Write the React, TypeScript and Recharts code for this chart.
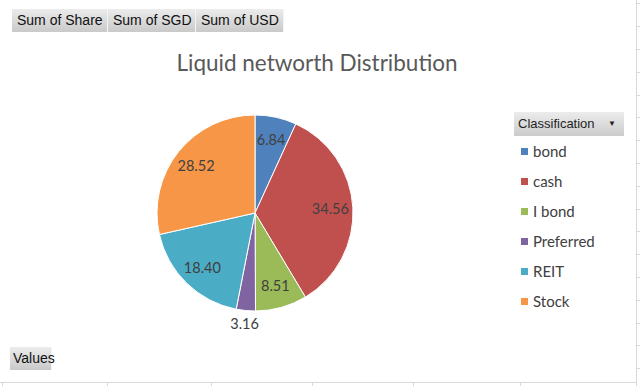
import { PieChart, Pie, Cell, Legend } from "recharts"

const categories = ["bond", "cash", "I bond", "Preferred", "REIT", "Stock"]
const shares = [6.84, 34.56, 8.51, 3.16, 18.4, 28.52]
const colors = ["#4F81BD", "#C0504D", "#9BBB59", "#8064A2", "#4BACC6", "#F79646"]
const fieldButtons = ["Sum of Share", "Sum of SGD", "Sum of USD"]
const title = "Liquid networth Distribution"
const legendTitle = "Classification"

const data = categories.map((name, i) => ({ name, value: shares[i] }))

const RADIAN = Math.PI / 180
const gridColor = "#d9d9d9"

const btnStyle: React.CSSProperties = {
  position: "absolute",
  height: 23,
  boxSizing: "border-box",
  background: "linear-gradient(#ececec, #c9c9c9)",
  borderRight: "1px solid #f4f4f4",
  fontFamily: "'Liberation Sans', Arial, sans-serif",
  fontSize: 14,
  lineHeight: "23px",
  color: "#111",
  paddingLeft: 5,
}

function renderLabel(props: any) {
  const { cx, cy, midAngle, outerRadius, value } = props
  const r = value < 5 ? outerRadius * 1.13 : outerRadius * 0.77
  const x = cx + r * Math.cos(-midAngle * RADIAN)
  const y = cy + r * Math.sin(-midAngle * RADIAN)
  return (
    <text x={x} y={y} fill="#404040" fontSize={14.5} fontFamily="Lato, 'Open Sans', sans-serif"
      textAnchor="middle" dominantBaseline="central">
      {value.toFixed(2)}
    </text>
  )
}

// legend drawn from the named arrays so order follows the data
function LegendBox() {
  return (
    <div style={{ width: 110, fontFamily: "Lato, 'Open Sans', sans-serif" }}>
      <div style={{
        height: 24, background: "linear-gradient(#ececec, #cbcbcb)", color: "#1f1f1f",
        fontFamily: "'Liberation Sans', Arial, sans-serif", fontSize: 13, lineHeight: "24px",
        paddingLeft: 4, position: "relative", boxSizing: "border-box",
      }}>
        {legendTitle}
        <span style={{ position: "absolute", right: 8, top: 0, fontSize: 8 }}>▼</span>
      </div>
      {categories.map((c, i) => (
        <div key={c} style={{ height: 30, display: "flex", alignItems: "center" }}>
          <span style={{ width: 7, height: 7, background: colors[i], marginLeft: 7, marginRight: 5 }} />
          <span style={{ fontSize: 15, color: "#404040" }}>{c}</span>
        </div>
      ))}
    </div>
  )
}

export default function App() {
  const rowTicks = Array.from({ length: 18 }, (_, k) => 3.4 + 22.8 * k)
  const colLines = [2, 107, 211, 312, 413, 520]
  return (
    <div style={{ position: "absolute", left: 0, top: 0, width: 640, height: 386, background: "#fff", overflow: "hidden" }}>
      {/* spreadsheet cell grid peeking around the chart */}
      <div style={{ position: "absolute", left: 636, top: 0, width: 1, height: 386, background: gridColor }} />
      {rowTicks.map((y) => (
        <div key={y} style={{ position: "absolute", left: 636, top: Math.round(y), width: 4, height: 1, background: gridColor }} />
      ))}
      <div style={{ position: "absolute", left: 0, top: 382, width: 637, height: 1, background: gridColor }} />
      {colLines.map((x) => (
        <div key={x} style={{ position: "absolute", left: x, top: 383, width: 1, height: 3, background: gridColor }} />
      ))}

      {fieldButtons.map((b, i) => (
        <div key={b} style={{ ...btnStyle, left: [12, 108, 196][i], top: 9, width: [96, 88, 88][i] }}>{b}</div>
      ))}
      <div style={{ ...btnStyle, left: 10, top: 347, width: 42, paddingLeft: 3 }}>Values</div>

      <div style={{
        position: "absolute", left: 0, width: 634, top: 49, textAlign: "center",
        fontFamily: "Lato, 'Open Sans', sans-serif", fontSize: 22.5, color: "#595959",
      }}>{title}</div>

      <PieChart width={640} height={386} margin={{ top: 0, right: 0, bottom: 0, left: 0 }}
        style={{ position: "absolute", left: 0, top: 0 }}>
        <Pie data={data} dataKey="value" nameKey="name" cx={255} cy={213} outerRadius={98}
          startAngle={90} endAngle={-270} stroke="#fff" strokeWidth={1}
          label={renderLabel} labelLine={false} isAnimationActive={false}>
          {data.map((d, i) => <Cell key={d.name} fill={colors[i]} />)}
        </Pie>
        <Legend layout="vertical" content={<LegendBox />}
          wrapperStyle={{ position: "absolute", left: 514, top: 112, width: 110 }} />
      </PieChart>
    </div>
  )
}
